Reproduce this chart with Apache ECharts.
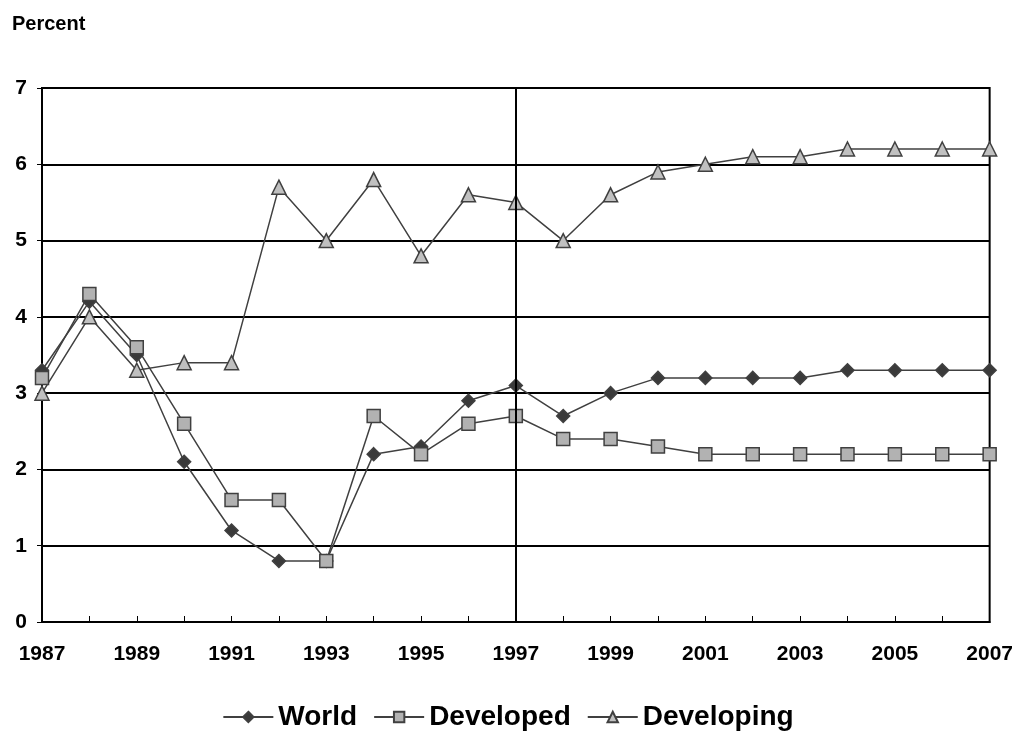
<!DOCTYPE html>
<html lang="en">
<head>
	<meta charset="UTF-8">
	<title>Growth</title>
	<style>body{margin:0;background:#fff;}</style>
</head>
<body>
	<div id="main" style="width:1016px;height:735px;"></div>
<script src="https://cdnjs.cloudflare.com/ajax/libs/echarts/6.0.0/echarts.min.js"></script>
<script>
var years = ['1987','1988','1989','1990','1991','1992','1993','1994','1995','1996','1997',
	'1998','1999','2000','2001','2002','2003','2004','2005','2006','2007'];
var world = [3.3,4.2,3.5,2.1,1.2,0.8,0.8,2.2,2.3,2.9,3.1,2.7,3.0,3.2,3.2,3.2,3.2,3.3,3.3,3.3,3.3];
var developed = [3.2,4.3,3.6,2.6,1.6,1.6,0.8,2.7,2.2,2.6,2.7,2.4,2.4,2.3,2.2,2.2,2.2,2.2,2.2,2.2,2.2];
var developing = [3.0,4.0,3.3,3.4,3.4,5.7,5.0,5.8,4.8,5.6,5.5,5.0,5.6,5.9,6.0,6.1,6.1,6.2,6.2,6.2,6.2];

var myChart = echarts.init(document.getElementById('main'));
var font = 'Liberation Sans, Arial, sans-serif';

function mkSeries(name, data, symbol, size, fill) {
	return {
		name: name,
		type: 'line',
		data: data,
		symbol: symbol,
		symbolSize: size,
		lineStyle: { color: '#404040', width: 1.5 },
		itemStyle: { color: fill, borderColor: '#404040', borderWidth: 1.5 },
		emphasis: { disabled: true },
		z: 3
	};
}

var series = [
	mkSeries('World', world, 'diamond', 13, '#3a3a3a'),
	mkSeries('Developed', developed, 'rect', 13, '#b2b2b2'),
	mkSeries('Developing', developing, 'triangle', 14, '#c0c0c0')
];
// vertical marker at 1997
series[0].markLine = {
	silent: true,
	symbol: 'none',
	label: { show: false },
	lineStyle: { color: '#000', width: 2, type: 'solid' },
	data: [{ xAxis: '1997' }]
};

myChart.setOption({
	animation: false,
	textStyle: { fontFamily: font },
	title: {
		text: 'Percent',
		left: 7, top: 9,
		textStyle: { fontSize: 20, fontWeight: 'bold', color: '#000' }
	},
	grid: {
		left: 42, right: 26, top: 88, bottom: 113,
		show: true, borderColor: '#000', borderWidth: 2, backgroundColor: 'transparent'
	},
	legend: {
		top: 698, left: 'center',
		itemWidth: 50, itemHeight: 13, itemGap: 16,
		textStyle: { fontSize: 28, fontWeight: 'bold', color: '#000', fontFamily: font },
		data: ['World', 'Developed', 'Developing']
	},
	xAxis: {
		type: 'category',
		data: years,
		boundaryGap: false,
		axisLine: { lineStyle: { color: '#000', width: 2 } },
		axisTick: { inside: true, length: 6, interval: 0, lineStyle: { color: '#000', width: 1 } },
		axisLabel: { interval: 1, margin: 22, fontSize: 21, fontWeight: 'bold', color: '#000' },
		splitLine: { show: false }
	},
	yAxis: {
		type: 'value',
		min: 0, max: 7, interval: 1,
		axisLine: { show: true, lineStyle: { color: '#000', width: 2 } },
		axisTick: { show: true, length: 5, lineStyle: { color: '#000' } },
		axisLabel: { margin: 15, fontSize: 21, fontWeight: 'bold', color: '#000' },
		splitLine: { lineStyle: { color: '#000', width: 2 } }
	},
	series: series
});
</script>
</body>
</html>
